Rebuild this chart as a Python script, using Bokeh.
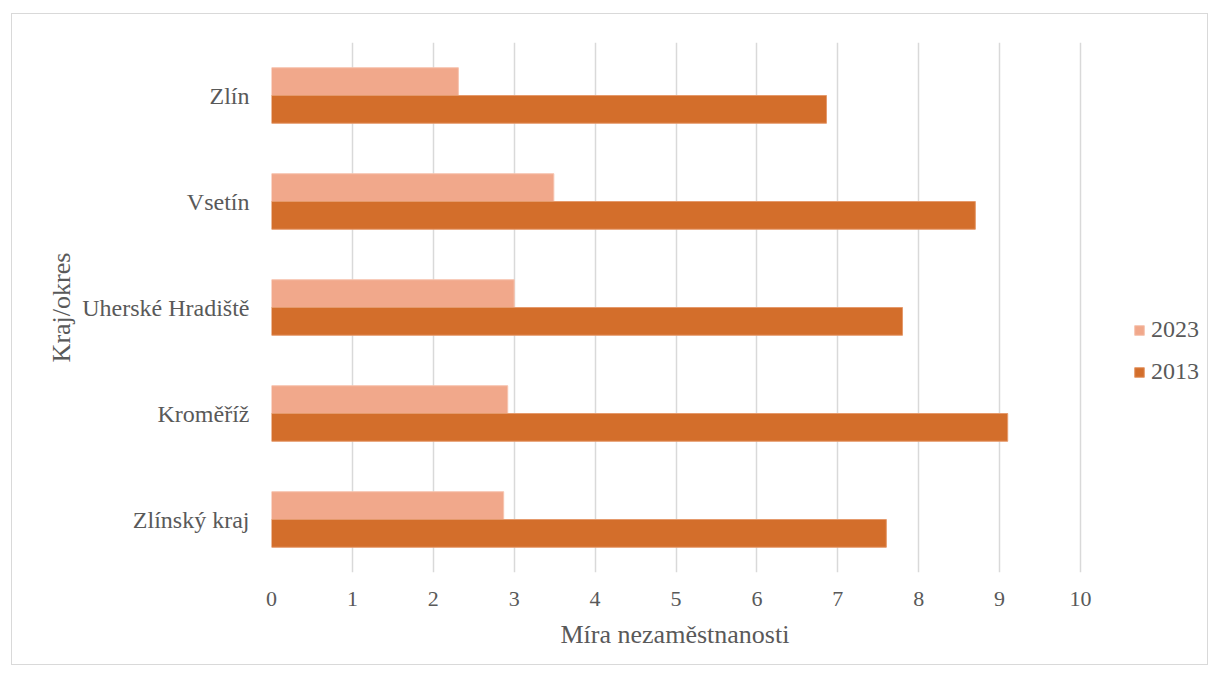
from bokeh.plotting import figure
from bokeh.models import FactorRange, Range1d, Legend, LegendItem, ColumnDataSource, FixedTicker, Title
from bokeh.transform import dodge
from bokeh.embed import file_html
from bokeh.resources import INLINE

categories = ["Zlínský kraj", "Kroměříž", "Uherské Hradiště", "Vsetín", "Zlín"]
rate_2023 = [2.87, 2.92, 3.0, 3.49, 2.31]
rate_2013 = [7.6, 9.1, 7.8, 8.7, 6.86]
x_ticks = [0, 1, 2, 3, 4, 5, 6, 7, 8, 9, 10]
series_names = ["2023", "2013"]

FONT = "Liberation Serif"
TXT = "#595959"
C2023 = "#F1A88B"
C2013 = "#D36E2B"

# the axis spans 0..10 over 809 px; the frame is widened to host the legend
AXIS_PX = 809
FRAME_PX = 936
X_END = x_ticks[-1] * FRAME_PX / AXIS_PX

src = ColumnDataSource(dict(cat=categories, r2023=rate_2023, r2013=rate_2013))

p = figure(
    y_range=FactorRange(factors=categories),
    x_range=Range1d(0, X_END),
    frame_width=FRAME_PX, frame_height=530,
    min_border_left=259, min_border_top=28, min_border_right=0, min_border_bottom=92,
    output_backend="svg", toolbar_location=None,
    margin=(13, 0, 0, 11),
)
p.styles = {"border": "1px solid #D9D9D9"}
p.outline_line_color = None

bh = 0.262
r1 = p.hbar(y=dodge("cat", bh / 2, range=p.y_range), right="r2023", left=0, height=bh,
            source=src, fill_color=C2023, line_color="#F6C4B0", line_width=1)
r2 = p.hbar(y=dodge("cat", -bh / 2, range=p.y_range), right="r2013", left=0, height=bh,
            source=src, fill_color=C2013, line_color="#E59A6C", line_width=1)

p.xaxis.ticker = FixedTicker(ticks=x_ticks)
p.xgrid.ticker = FixedTicker(ticks=x_ticks)
p.xgrid.grid_line_color = "#D9D9D9"
p.xgrid.grid_line_width = 1.5
p.ygrid.grid_line_color = None

for ax in (p.xaxis[0], p.yaxis[0]):
    ax.axis_line_color = None
    ax.major_tick_line_color = None
    ax.minor_tick_line_color = None
    ax.major_tick_out = 0
    ax.major_tick_in = 0
    ax.minor_tick_out = 0
    ax.major_label_text_font = FONT
    ax.major_label_text_color = TXT
    ax.axis_label_text_font = FONT
    ax.axis_label_text_color = TXT
    ax.axis_label_text_font_size = "26px"
    ax.axis_label_text_font_style = "normal"

p.xaxis.major_label_text_font_size = "22px"
p.yaxis.major_label_text_font_size = "24px"
p.yaxis.axis_label = "Kraj/okres"
p.xaxis.major_label_standoff = 19
p.yaxis.major_label_standoff = 22
p.yaxis.axis_label_standoff = 3

xtitle = Title(text="Míra nezaměstnanosti", align="left", offset=289,
               text_font=FONT, text_font_size="26px", text_font_style="normal",
               text_color=TXT, standoff=18)
p.add_layout(xtitle, "below")

legend = Legend(items=[LegendItem(label=series_names[0], renderers=[r1]),
                       LegendItem(label=series_names[1], renderers=[r2])],
                location=(862, 187))
legend.border_line_color = None
legend.background_fill_alpha = 0
legend.padding = 0
legend.margin = 0
legend.spacing = 15
legend.glyph_width = 12
legend.glyph_height = 12
legend.label_standoff = 6
legend.label_text_font = FONT
legend.label_text_color = TXT
legend.label_text_font_size = "24px"
p.add_layout(legend)

open("out.html", "w").write(file_html(p, INLINE))
